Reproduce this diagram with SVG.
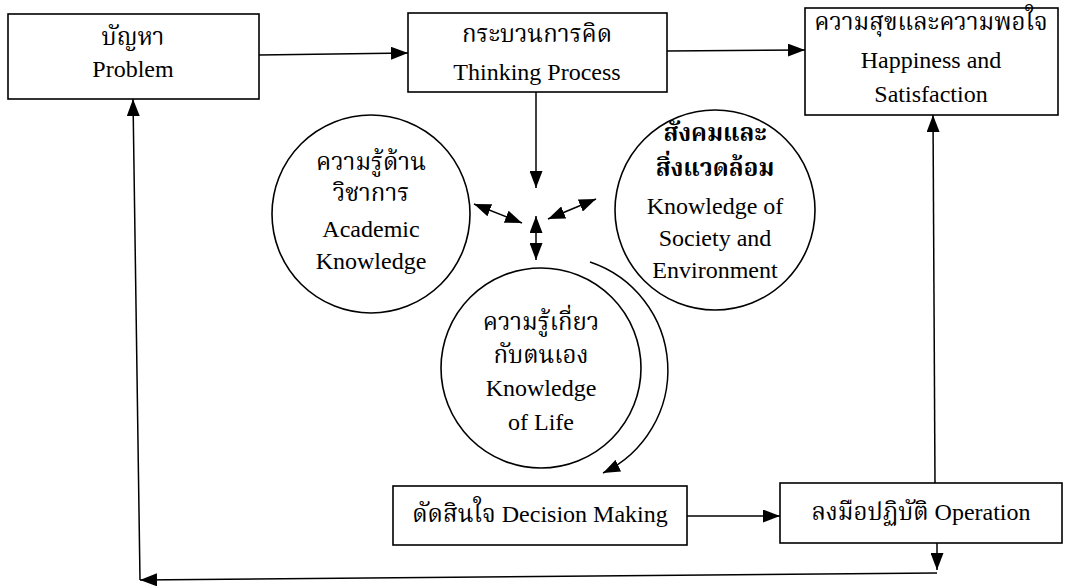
<svg xmlns="http://www.w3.org/2000/svg" width="1066" height="587" viewBox="0 0 1066 587">
<style>
.box{fill:#fff;stroke:#000;stroke-width:1.6}
.circ{fill:none;stroke:#000;stroke-width:1.6}
.ln{fill:none;stroke:#000;stroke-width:1.5}
text{font-family:"Liberation Serif","Noto Serif Thai","Noto Sans Thai","Loma","Garuda",serif;font-size:24px;fill:#000;text-anchor:middle}
.th{font-size:24px}
</style>
<defs>
<marker id="ah" viewBox="0 0 17 13" refX="17" refY="6.5" markerWidth="17" markerHeight="13" markerUnits="userSpaceOnUse" orient="auto">
<path d="M0,0 L17,6.5 L0,13 Z" fill="#000"/>
</marker>
<marker id="ahs" viewBox="0 0 17 13" refX="17" refY="6.5" markerWidth="17" markerHeight="13" markerUnits="userSpaceOnUse" orient="auto-start-reverse">
<path d="M0,0 L17,6.5 L0,13 Z" fill="#000"/>
</marker>
</defs>
<g id="connectors">
<line class="ln" x1="259" y1="55" x2="408" y2="53" marker-end="url(#ah)"/>
<line class="ln" x1="667" y1="51" x2="805" y2="50" marker-end="url(#ah)"/>
<line class="ln" x1="536" y1="92" x2="536" y2="188" marker-end="url(#ah)"/>
<line class="ln" x1="536" y1="216" x2="536" y2="260" marker-start="url(#ahs)" marker-end="url(#ah)"/>
<line class="ln" x1="474" y1="204" x2="522" y2="223" marker-start="url(#ahs)" marker-end="url(#ah)"/>
<line class="ln" x1="548" y1="219" x2="596" y2="199" marker-start="url(#ahs)" marker-end="url(#ah)"/>
<path class="ln" d="M590,262 A114,114 0 0 1 603,473" marker-end="url(#ah)"/>
<line class="ln" x1="687" y1="516" x2="780" y2="516" marker-end="url(#ah)"/>
<line class="ln" x1="935" y1="483" x2="933" y2="115" marker-end="url(#ah)"/>
<line class="ln" x1="937" y1="543" x2="937" y2="570" marker-end="url(#ah)"/>
<line class="ln" x1="937" y1="573" x2="140" y2="580" marker-end="url(#ah)"/>
<line class="ln" x1="140" y1="580" x2="133" y2="99" marker-end="url(#ah)"/>
</g>
<g id="problem">
<rect class="box" x="8" y="14" width="251" height="85"/>
<text class="th" x="133" y="45">บัญหา</text>
<text x="133" y="77">Problem</text>
</g>
<g id="thinking">
<rect class="box" x="408" y="13" width="259" height="79"/>
<text class="th" x="537" y="42">กระบวนการคิด</text>
<text x="537" y="80">Thinking Process</text>
</g>
<g id="happiness">
<rect class="box" x="805" y="8" width="253" height="107"/>
<text class="th" x="931" y="30">ความสุขและความพอใจ</text>
<text x="931" y="68">Happiness and</text>
<text x="931" y="102">Satisfaction</text>
</g>
<g id="academic">
<circle class="circ" cx="371" cy="214" r="99"/>
<text class="th" x="371" y="170">ความรู้ด้าน</text>
<text class="th" x="371" y="201">วิชาการ</text>
<text x="371" y="237">Academic</text>
<text x="371" y="269">Knowledge</text>
</g>
<g id="society">
<circle class="circ" cx="715" cy="210" r="100"/>
<text class="th" x="715" y="141" font-weight="bold">สังคมและ</text>
<text class="th" x="715" y="176" font-weight="bold">สิ่งแวดล้อม</text>
<text x="715" y="214">Knowledge of</text>
<text x="715" y="246">Society and</text>
<text x="715" y="278">Environment</text>
</g>
<g id="life">
<circle class="circ" cx="541" cy="368" r="100"/>
<text class="th" x="541" y="330">ความรู้เกี่ยว</text>
<text class="th" x="541" y="363">กับตนเอง</text>
<text x="541" y="396">Knowledge</text>
<text x="541" y="430">of Life</text>
</g>
<g id="decision">
<rect class="box" x="393" y="486" width="294" height="59"/>
<text x="540" y="522">ดัดสินใจ Decision Making</text>
</g>
<g id="operation">
<rect class="box" x="780" y="483" width="282" height="60"/>
<text x="921" y="520">ลงมือปฏิบัติ Operation</text>
</g>
</svg>
